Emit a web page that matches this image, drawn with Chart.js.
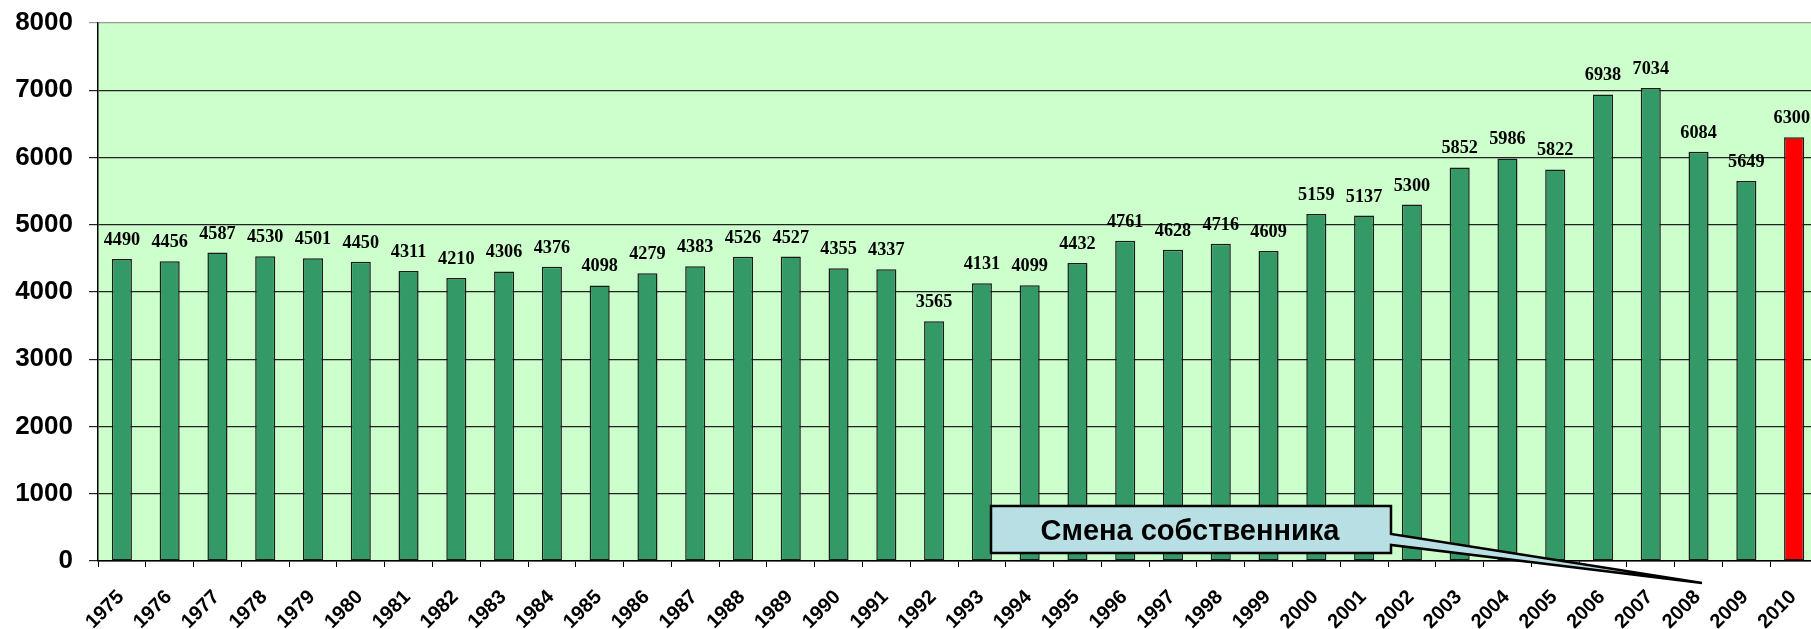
<!DOCTYPE html>
<html>
<head>
<meta charset="utf-8">
<script src="https://cdn.jsdelivr.net/npm/chart.js@4"></script>
<style>
  html, body { margin: 0; padding: 0; background: #fff; overflow: hidden; }
  #grafico { display: block; }
</style>
</head>
<body>
<canvas id="grafico" width="1818" height="629"></canvas>
<script>
const anos = ['1975','1976','1977','1978','1979','1980','1981','1982','1983','1984','1985','1986',
  '1987','1988','1989','1990','1991','1992','1993','1994','1995','1996','1997','1998','1999',
  '2000','2001','2002','2003','2004','2005','2006','2007','2008','2009','2010'];
const valores = [4490, 4456, 4587, 4530, 4501, 4450, 4311, 4210, 4306, 4376, 4098, 4279,
  4383, 4526, 4527, 4355, 4337, 3565, 4131, 4099, 4432, 4761, 4628, 4716, 4609,
  5159, 5137, 5300, 5852, 5986, 5822, 6938, 7034, 6084, 5649, 6300];
const yTicks = [0, 1000, 2000, 3000, 4000, 5000, 6000, 7000, 8000];
const textoNota = 'Смена собственника';

const corBarra = valores.map((v, i) => i === valores.length - 1 ? '#ff0000' : '#339966');

// fundo verde da area do grafico
const fundo = {
  id: 'fundo',
  beforeDraw(chart) {
    const a = chart.chartArea, c = chart.ctx;
    c.save();
    c.fillStyle = '#ccffcc';
    c.fillRect(a.left, a.top, a.right - a.left, a.bottom - a.top);
    c.restore();
  }
};

// numeros em cima das barras
const rotulos = {
  id: 'rotulos',
  afterDatasetsDraw(chart) {
    const c = chart.ctx;
    const meta = chart.getDatasetMeta(0);
    c.save();
    c.font = 'bold 19px "Liberation Serif", "Times New Roman", serif';
    c.fillStyle = '#000';
    c.textAlign = 'center';
    c.textBaseline = 'alphabetic';
    meta.data.forEach((bar, i) => {
      const txt = String(valores[i]);
      const meia = c.measureText(txt).width * 0.96 / 2;
      const x = Math.min(bar.x, 1810 - meia);
      c.save();
      c.translate(x, bar.y - 14);
      c.scale(0.96, 1);
      c.fillText(txt, 0, 0);
      c.restore();
    });
    c.restore();
  }
};

// anos inclinados embaixo do eixo
const anosEixo = {
  id: 'anosEixo',
  afterDraw(chart) {
    const c = chart.ctx;
    const xs = chart.scales.x;
    c.save();
    c.font = 'bold 20px "Liberation Sans", Arial, sans-serif';
    c.fillStyle = '#000';
    c.textAlign = 'right';
    c.textBaseline = 'middle';
    anos.forEach((ano, i) => {
      c.save();
      c.translate(xs.getPixelForTick(i) - 1, xs.top + 33);
      c.rotate(-Math.PI / 4);
      c.fillText(ano, 0, 0);
      c.restore();
    });
    c.restore();
  }
};

// caixa "Смена собственника" com a seta
const nota = {
  id: 'nota',
  afterDraw(chart) {
    const c = chart.ctx;
    const x0 = 991, y0 = 506, x1 = 1391, y1 = 553;
    const tip = [1702, 583];
    c.save();
    c.fillStyle = '#b8dfe3';
    c.strokeStyle = '#000';
    c.lineJoin = 'miter';
    c.beginPath();
    c.moveTo(x0, y0);
    c.lineTo(x1, y0);
    c.lineTo(x1, 534);
    c.lineTo(tip[0], tip[1]);
    c.lineTo(x1, 545);
    c.lineTo(x1, y1);
    c.lineTo(x0, y1);
    c.closePath();
    c.fill();
    c.lineWidth = 2.5;
    c.stroke();
    c.fillStyle = '#000';
    c.font = 'bold 29px "Liberation Sans", Arial, sans-serif';
    c.textAlign = 'center';
    c.textBaseline = 'middle';
    c.fillText(textoNota, (x0 + x1) / 2 - 1, (y0 + y1) / 2 + 2);
    c.restore();
  }
};

const ctx = document.getElementById('grafico');

new Chart(ctx, {
  type: 'bar',
  data: {
    labels: anos,
    datasets: [{
      data: valores,
      backgroundColor: corBarra,
      borderColor: '#1a1a1a',
      borderWidth: 1.5,
      borderSkipped: false,
      barPercentage: 0.42,
      categoryPercentage: 1
    }]
  },
  options: {
    responsive: false,
    animation: false,
    devicePixelRatio: 1,
    layout: { padding: { top: 23, right: 0, bottom: 0, left: 0 } },
    plugins: {
      legend: { display: false },
      tooltip: { enabled: false }
    },
    scales: {
      x: {
        offset: true,
        grid: {
          offset: true,
          drawOnChartArea: false,
          color: '#000',
          tickLength: 6
        },
        border: { color: '#000', width: 1.5 },
        ticks: { display: false, autoSkip: false },
        afterFit: (s) => { s.height = 629 - 561; }
      },
      y: {
        min: 0,
        max: 8000,
        afterBuildTicks: (s) => { s.ticks = yTicks.map(v => ({ value: v })); },
        grid: {
          color: (c) => c.tick && c.tick.value === 8000 ? '#999' : '#222',
          lineWidth: 1.2,
          tickLength: 9
        },
        border: { color: '#000', width: 1.5 },
        ticks: {
          color: '#000',
          padding: 16,
          callback: (v) => String(v),
          font: { family: '"Liberation Sans", Arial, sans-serif', size: 26, weight: 'bold' }
        },
        afterFit: (s) => { s.width = 98; s.paddingTop = 0; s.paddingBottom = 0; }
      }
    }
  },
  plugins: [fundo, rotulos, anosEixo, nota]
});
</script>
</body>
</html>
